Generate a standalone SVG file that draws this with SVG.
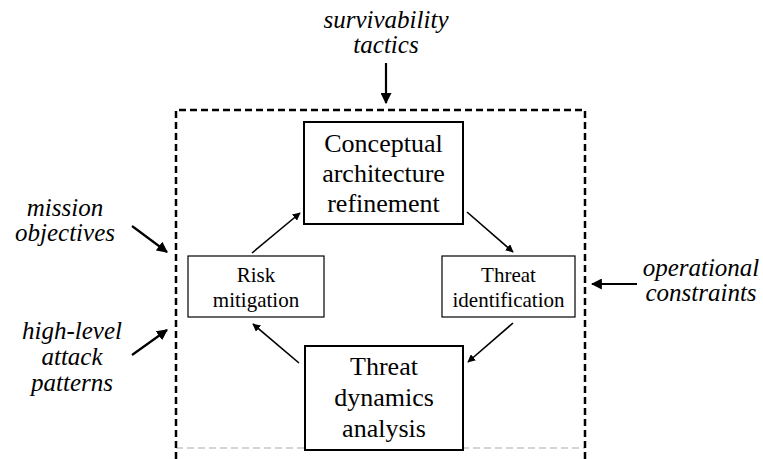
<svg xmlns="http://www.w3.org/2000/svg" width="763" height="459" viewBox="0 0 763 459">
  <style>
    .bg { fill: #ffffff; }
    .frame { fill: none; stroke: #000; stroke-width: 2.5; stroke-dasharray: 7 4; }
    .frame-low { fill: none; stroke: #c8c8c8; stroke-width: 1.5; stroke-dasharray: 7 4; }
    .big { fill: #fff; stroke: #000; stroke-width: 2; }
    .small { fill: #fff; stroke: #000; stroke-width: 1.2; }
    text { font-family: 'Liberation Serif', 'Times New Roman', 'DejaVu Serif', serif; fill: #000; text-anchor: middle; }
    .t-big { font-size: 26px; }
    .t-small { font-size: 21px; }
    .t-in { font-style: italic; font-size: 25px; }
    .flow { stroke: #000; stroke-width: 1.6; fill: none; marker-end: url(#head); }
    .input { stroke: #000; stroke-width: 2.2; fill: none; marker-end: url(#head); }
  </style>
  <defs>
    <marker id="head" viewBox="0 0 10 10" refX="9" refY="5" markerWidth="5" markerHeight="5" orient="auto" markerUnits="strokeWidth">
      <path d="M0,0 L10,5 L0,10 z" fill="#000"/>
    </marker>
  </defs>

  <rect class="bg" x="0" y="0" width="763" height="459"/>

  <!-- system boundary -->
  <g id="boundary">
    <line class="frame-low" x1="176" y1="448" x2="585" y2="448"/>
    <path class="frame" d="M176,459 L176,110 L585,110 L585,459"/>
  </g>

  <!-- connectors: the refinement cycle and the external inputs -->
  <g id="connectors">
    <line class="flow" x1="252" y1="253" x2="300" y2="213"/>
    <line class="flow" x1="467" y1="212" x2="513" y2="252"/>
    <line class="flow" x1="513" y1="323" x2="468" y2="362"/>
    <line class="flow" x1="299" y1="363" x2="253" y2="324"/>
    <line class="input" x1="386" y1="63" x2="386" y2="103"/>
    <line class="input" x1="132" y1="226" x2="167" y2="252"/>
    <line class="input" x1="132" y1="355" x2="167" y2="330"/>
    <line class="input" x1="637" y1="284" x2="592" y2="284"/>
  </g>

  <!-- nodes -->
  <g id="conceptual-architecture-refinement">
    <rect class="big" x="304" y="122" width="159" height="102"/>
    <text class="t-big" x="383.5" y="152">Conceptual</text>
    <text class="t-big" x="383.5" y="182">architecture</text>
    <text class="t-big" x="383.5" y="212">refinement</text>
  </g>

  <g id="risk-mitigation">
    <rect class="small" x="188" y="256" width="136" height="61"/>
    <text class="t-small" x="256" y="282">Risk</text>
    <text class="t-small" x="256" y="307">mitigation</text>
  </g>

  <g id="threat-identification">
    <rect class="small" x="442" y="256" width="133" height="61"/>
    <text class="t-small" x="508.5" y="282">Threat</text>
    <text class="t-small" x="508.5" y="307">identification</text>
  </g>

  <g id="threat-dynamics-analysis">
    <rect class="big" x="305" y="346" width="158" height="104"/>
    <text class="t-big" x="384" y="375">Threat</text>
    <text class="t-big" x="384" y="406">dynamics</text>
    <text class="t-big" x="384" y="437">analysis</text>
  </g>

  <!-- external inputs -->
  <g id="survivability-tactics">
    <text class="t-in" x="386" y="28">survivability</text>
    <text class="t-in" x="386" y="53">tactics</text>
  </g>

  <g id="mission-objectives">
    <text class="t-in" x="65" y="216">mission</text>
    <text class="t-in" x="65" y="241">objectives</text>
  </g>

  <g id="high-level-attack-patterns">
    <text class="t-in" x="72" y="339">high-level</text>
    <text class="t-in" x="72" y="365">attack</text>
    <text class="t-in" x="72" y="391">patterns</text>
  </g>

  <g id="operational-constraints">
    <text class="t-in" x="701" y="276">operational</text>
    <text class="t-in" x="701" y="301">constraints</text>
  </g>
</svg>
